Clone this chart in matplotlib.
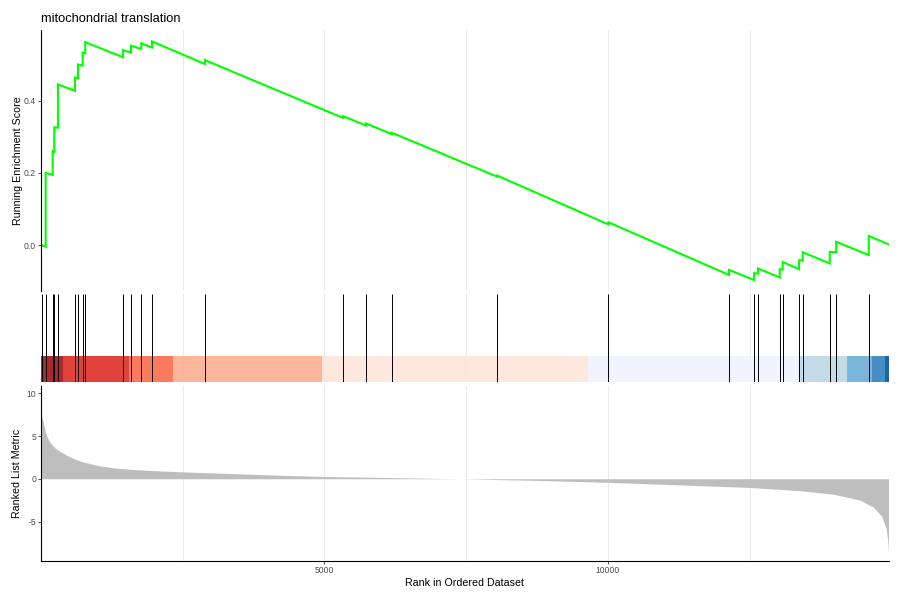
import matplotlib.pyplot as plt
import numpy as np

# Gene-set hits (rank positions) and running enrichment score around each hit
N_GENES = 14950
hit_ranks = [12, 83, 207, 235, 300, 600, 653, 736, 782, 1447, 1588, 1770, 1959,
             2895, 5330, 5731, 6190, 8051, 10010, 12138, 12579, 12650, 13031,
             13084, 13373, 13437, 13914, 14027, 14602]
es_before = [0.000, -0.005, 0.194, 0.258, 0.325, 0.427, 0.462, 0.497, 0.531,
             0.520, 0.533, 0.543, 0.547, 0.501, 0.352, 0.331, 0.307, 0.189,
             0.057, -0.083, -0.097, -0.079, -0.090, -0.068, -0.067, -0.043,
             -0.051, -0.020, -0.028]
es_after = [0.000, 0.200, 0.260, 0.326, 0.445, 0.464, 0.500, 0.533, 0.562,
            0.540, 0.552, 0.559, 0.564, 0.512, 0.357, 0.337, 0.311, 0.192,
            0.063, -0.069, -0.078, -0.065, -0.067, -0.047, -0.042, -0.020,
            -0.019, 0.009, 0.025]
es_start = 0.0
es_end = 0.002

# Ranked list metric (sampled along the ranking)
metric_rank = [1, 13, 42, 72, 107, 160, 248, 336, 454, 600, 747, 1042, 1324,
               1624, 2100, 2506, 3388, 4164, 4993, 6334, 7393, 8804, 10003,
               11273, 12508, 13390, 13972, 14449, 14678, 14832, 14908, 14938,
               14950]
metric_val = [7.6, 7.3, 6.6, 5.6, 4.9, 4.26, 3.6, 3.2, 2.75, 2.3, 1.95, 1.5,
              1.25, 1.08, 0.92, 0.8, 0.6, 0.42, 0.27, 0.12, 0.0, -0.2, -0.42,
              -0.72, -1.02, -1.4, -1.8, -2.5, -3.3, -4.4, -5.8, -7.3, -8.7]

# Colour bar bins along the ranking
bin_edges = [1, 387, 1549, 2324, 4965, 9648, 13380, 14225, 14665, 14894, 14950]
bin_colors = ["#A50F15", "#DE2D26", "#FB6A4A", "#FCAE91", "#FEE5D9",
              "#EFF3FF", "#BDD7E7", "#6BAED6", "#3182BD", "#08519C"]

TITLE = "mitochondrial translation"


def px_rect(left, top, right, bottom, w=900, h=600):
    return [left / w, 1 - bottom / h, (right - left) / w, (bottom - top) / h]


def style_x(ax):
    ax.set_xlim(1, N_GENES)
    ax.set_xticks([5000, 10000])
    ax.set_xticks([2500, 7500, 12500], minor=True)
    ax.grid(axis="x", which="both", color="#EBEBEB", linewidth=0.8)
    ax.set_axisbelow(True)
    for s in ["top", "right"]:
        ax.spines[s].set_visible(False)
    ax.tick_params(axis="x", which="minor", length=0)


def main() -> None:
    plt.rcParams["font.family"] = ["Liberation Sans", "DejaVu Sans"]
    plt.rcParams["axes.unicode_minus"] = False

    fig = plt.figure(figsize=(9, 6), dpi=100)
    ax1 = fig.add_axes(px_rect(41, 30, 888.5, 291))
    ax2 = fig.add_axes(px_rect(41, 294, 888.5, 382))
    ax3 = fig.add_axes(px_rect(41, 386, 888.5, 561))

    tick_kw = dict(labelsize=6.2, labelcolor="#4D4D4D", color="#333333",
                   length=2, width=0.6, pad=1.5)

    # Running enrichment score
    xs = [1]
    ys = [es_start]
    for r, b, a in zip(hit_ranks, es_before, es_after):
        xs += [r, r]
        ys += [b, a]
    xs.append(N_GENES)
    ys.append(es_end)
    ax1.plot(xs, ys, color="#00FF00", linewidth=1.5, solid_joinstyle="miter")
    style_x(ax1)
    ax1.set_ylim(-0.1274, 0.5956)
    ax1.set_yticks([0.0, 0.2, 0.4])
    ax1.set_yticklabels(["0.0", "0.2", "0.4"])
    ax1.spines["bottom"].set_visible(False)
    ax1.spines["left"].set_linewidth(0.8)
    ax1.tick_params(axis="y", **tick_kw)
    ax1.tick_params(axis="x", which="both", length=0, labelbottom=False)
    ax1.set_ylabel("Running Enrichment Score", fontsize=7.7, labelpad=1)
    ax1.set_title(TITLE, loc="left", fontsize=9.3, pad=6)

    # Hit lines and colour bar
    ax2.vlines(hit_ranks, 0, 1, color="black", linewidth=0.7)
    segs = [(bin_edges[i], bin_edges[i + 1] - bin_edges[i])
            for i in range(len(bin_colors))]
    ax2.broken_barh(segs, (0, 0.3), facecolors=bin_colors, alpha=0.9,
                    linewidth=0)
    style_x(ax2)
    ax2.set_ylim(0, 1)
    ax2.set_yticks([])
    for s in ["left", "bottom"]:
        ax2.spines[s].set_visible(False)
    ax2.tick_params(axis="x", which="both", length=0, labelbottom=False)

    # Ranked list metric
    ax3.fill_between(metric_rank, 0, metric_val, color="#BEBEBE", linewidth=0)
    style_x(ax3)
    ax3.set_ylim(-9.62, 10.85)
    ax3.set_yticks([-5, 0, 5, 10])
    ax3.set_xticklabels(["5000", "10000"])
    ax3.spines["left"].set_linewidth(0.8)
    ax3.spines["bottom"].set_linewidth(0.8)
    ax3.tick_params(axis="both", which="major", **tick_kw)
    ax3.set_ylabel("Ranked List Metric", fontsize=7.7, labelpad=3.3)
    ax3.set_xlabel("Rank in Ordered Dataset", fontsize=7.7, labelpad=2)

    fig.savefig("out.png", dpi=100)
    plt.close(fig)


if __name__ == "__main__":
    main()
